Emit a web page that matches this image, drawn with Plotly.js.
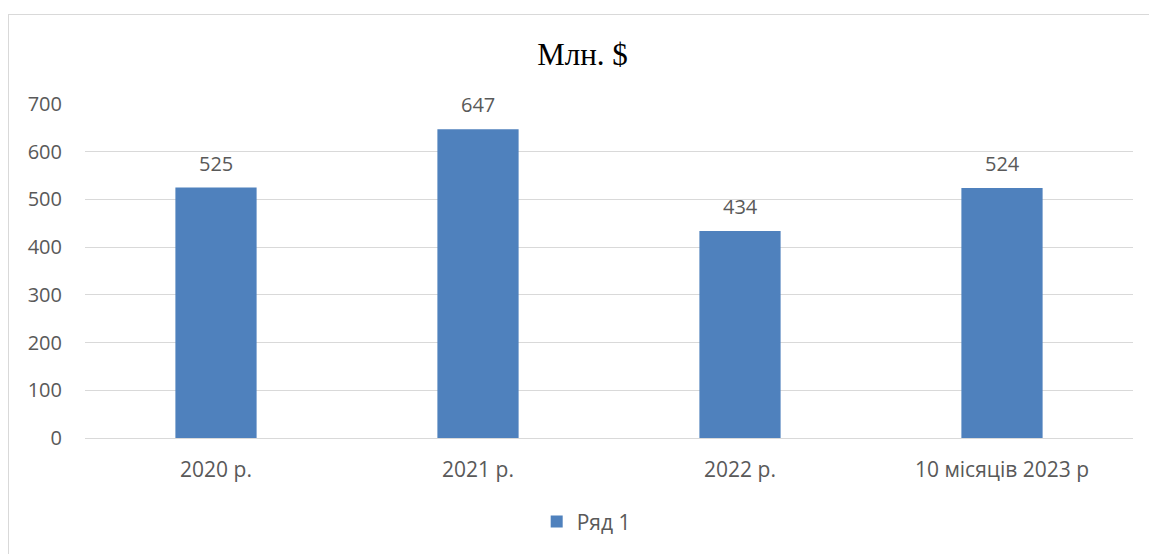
<!DOCTYPE html>
<html>
<head>
<meta charset="utf-8">
<script src="https://cdn.plot.ly/plotly-3.0.1.min.js"></script>
<style>
  html, body { margin: 0; padding: 0; background: #fff; }
  #wrap { position: relative; width: 1149px; height: 554px; overflow: hidden; }
  #chart { width: 1149px; height: 554px; }
  #frame { position: absolute; left: 8px; top: 14px; width: 1160px; height: 580px;
           border: 1px solid #d9d9d9; pointer-events: none; box-sizing: border-box; }
</style>
</head>
<body>
<div id="wrap">
  <div id="chart"></div>
  <div id="frame"></div>
</div>
<script>
const categories = ["2020 р.", "2021 р.", "2022 р.", "10 місяців 2023 р"];
const values = [525, 647, 434, 524];
const seriesName = "Ряд 1";
const yTicks = [0, 100, 200, 300, 400, 500, 600, 700];
const chartTitle = "Млн. $";

const font = "'Open Sans', 'Noto Sans', sans-serif";
const grey = "#595959";

const trace = {
  type: "bar",
  x: categories,
  y: values,
  name: seriesName,
  marker: { color: "#4F81BD" },
  hoverinfo: "x+y",
  showlegend: true
};

const annotations = categories.map((c, i) => ({
  x: c, y: values[i], xref: "x", yref: "y",
  text: String(values[i]), showarrow: false,
  yanchor: "bottom", yshift: 9,
  font: { family: font, size: 20, color: grey }
}));

const layout = {
  width: 1149, height: 554,
  margin: { l: 85, r: 16, t: 104, b: 116 },
  paper_bgcolor: "#fff", plot_bgcolor: "#fff",
  title: {
    text: chartTitle,
    font: { family: "'Liberation Serif', 'Times New Roman', serif", size: 31, color: "#000" },
    xref: "container", x: 0.507, xanchor: "center",
    yref: "container", y: 0.902, yanchor: "middle"
  },
  bargap: 0.69,
  xaxis: {
    type: "category",
    showline: true, linecolor: "#d9d9d9", linewidth: 1,
    showgrid: false, zeroline: false,
    ticks: "",
    ticklabelstandoff: 13,
    tickfont: { family: font, size: 21, color: grey }
  },
  yaxis: {
    range: [0, 700],
    tickvals: yTicks,
    showgrid: true, gridcolor: "#d9d9d9", gridwidth: 1,
    zeroline: true, zerolinecolor: "#d9d9d9",
    showline: false, ticks: "",
    ticklabelstandoff: 22,
    tickfont: { family: font, size: 20, color: grey }
  },
  legend: {
    orientation: "h",
    x: 0.431, xanchor: "left",
    y: -0.251, yanchor: "middle",
    font: { family: font, size: 21, color: grey },
    itemwidth: 30
  },
  annotations: annotations,
  showlegend: true
};

Plotly.newPlot("chart", [trace], layout, { displayModeBar: false, staticPlot: true });
</script>
</body>
</html>
